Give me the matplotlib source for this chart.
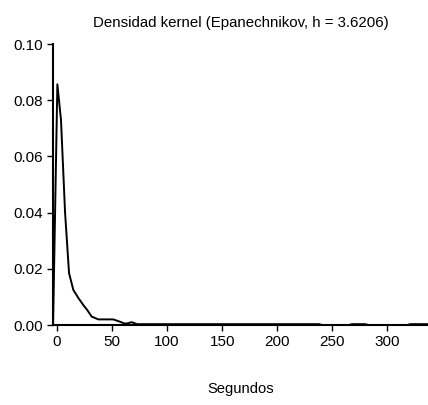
import matplotlib
matplotlib.use("Agg")
import matplotlib.pyplot as plt

plt.rcParams['font.family'] = ['Liberation Sans', 'DejaVu Sans']

# Kernel density estimate
seconds = [-3.6, 0.3, 3.6, 7.3, 10.9, 14.8, 19.4, 23.9, 27.5, 31.5, 37.5, 51.0,
           57.0, 61.5, 64.0, 67.9, 72.7, 100, 150, 200, 238, 241, 265, 268,
           280, 283, 318, 321, 337]
density = [0.0, 0.0857, 0.073, 0.040, 0.0185, 0.0125, 0.0096, 0.0071, 0.0053,
           0.003, 0.002, 0.002, 0.0012, 0.0005, 0.0006, 0.001, 0.0003, 0.0003,
           0.0003, 0.0003, 0.0003, 0.0, 0.0, 0.0003, 0.0003, 0.0, 0.0, 0.0003,
           0.0003]

fig = plt.figure(figsize=(4.28, 4.05), dpi=100)
ax = fig.add_axes([0.124, 0.1975, 0.876, 0.6935])
ax.plot(seconds, density, color='black', lw=1.4)

ax.set_xlim(-3.6, 337)
ax.set_ylim(0, 0.10)
ax.set_xticks([0, 50, 100, 150, 200, 250, 300])
ax.set_yticks([0.0, 0.02, 0.04, 0.06, 0.08, 0.10])
ax.yaxis.set_major_formatter(matplotlib.ticker.FormatStrFormatter('%.2f'))
ax.spines['top'].set_visible(False)
ax.spines['right'].set_visible(False)
ax.spines['left'].set_linewidth(1.5)
ax.spines['bottom'].set_linewidth(1.5)
ax.tick_params(direction='out', length=4, width=1, labelsize=11, pad=3)

ax.set_title("Densidad kernel (Epanechnikov, h = 3.6206)", fontsize=10.8, pad=12)
ax.set_xlabel("Segundos", fontsize=10.6, labelpad=24)

fig.savefig("out.png", dpi=100)
